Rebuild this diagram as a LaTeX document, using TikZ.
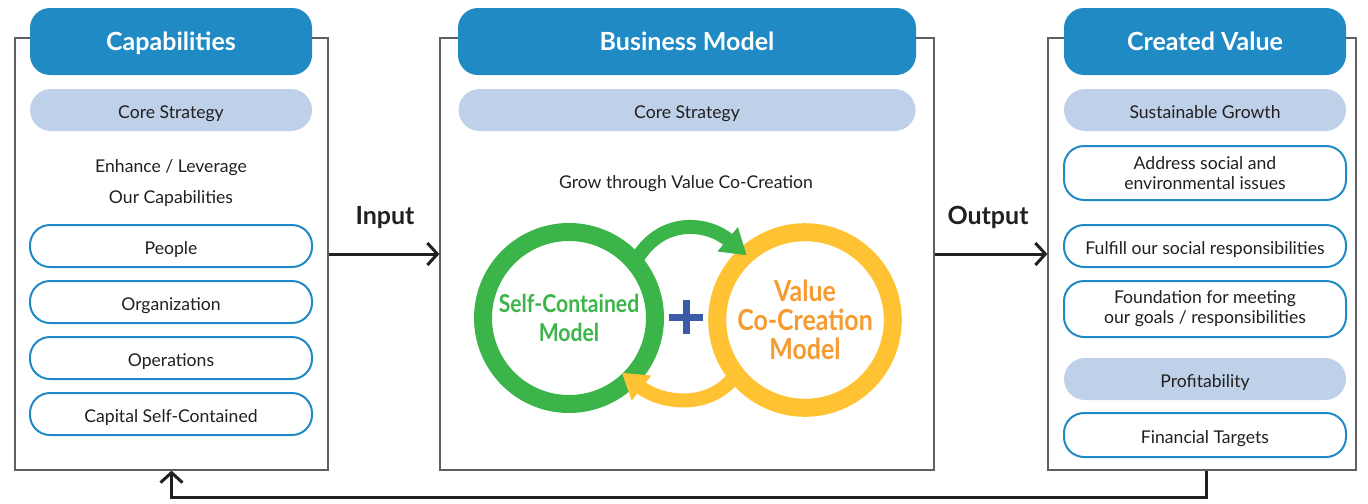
\documentclass[tikz,border=0pt]{standalone}
\usepackage{fontspec}
\setmainfont{Lato}
\newfontfamily\condfont[FakeStretch=0.86]{Lato}
\usetikzlibrary{arrows.meta,positioning,calc}
\definecolor{hdblue}{HTML}{1F8AC4}
\definecolor{pillblue}{HTML}{BED1E9}
\definecolor{ringgreen}{HTML}{3BB54A}
\definecolor{ringyellow}{HTML}{FEC232}
\definecolor{valorange}{HTML}{F59B30}
\definecolor{plusblue}{HTML}{3A5BA8}
\definecolor{linedark}{HTML}{231F20}
\definecolor{framegray}{HTML}{606060}
\newcommand{\bodyfont}{\fontsize{8.8}{15.5}\selectfont}

\begin{document}
\begin{tikzpicture}[x=0.5pt, y=-0.5pt, text=linedark,
  oneline/.style={text height=8.9pt, text depth=0.5pt},
  panel/.style={draw=framegray, line width=0.6pt, minimum height=216pt, inner sep=0pt},
  header/.style={fill=hdblue, rounded corners=10pt, minimum height=33.5pt, text=white, text height=9.5pt, text depth=0.5pt, font=\bfseries\fontsize{12.5}{14}\selectfont},
  strat/.style={fill=pillblue, rounded corners=10.5pt, minimum width=141pt, minimum height=21pt, oneline, font=\bodyfont},
  item/.style={draw=hdblue, line width=1pt, fill=white, rounded corners=10pt, minimum width=141pt, minimum height=21pt, align=center, font=\fontsize{8.8}{10}\selectfont},
  arr/.style={-{Straight Barb[length=5pt, width=11pt]}, line width=1.5pt, draw=linedark},
  ring/.style={circle, line width=9pt, minimum size=86pt, align=center},
  loop/.style={line width=7pt, -{Triangle[length=12.5pt, width=15pt]}},
  lbl/.style={text height=9.5pt, text depth=0.5pt, font=\bfseries\fontsize{12.5}{14}\selectfont}]
\useasboundingbox (0,0) rectangle (1368,503);

% outer panels
\node[panel, minimum width=156.5pt] (capbox) at (171.5,254) {};
\node[panel, minimum width=247pt] (bmbox) at (687,254) {};
\node[panel, minimum width=154pt] (cvbox) at (1202,254) {};

% headers
\node[header, minimum width=141pt] (caphd) at (171,41.5) {Capabilities};
\node[header, minimum width=229pt] (bmhd) at (687,41.5) {Business Model};
\node[header, minimum width=141pt] (cvhd) at (1205,41.5) {Created Value};

% capabilities column
\node[strat] (capstrat) at (171,110) {Core Strategy};
\node[align=center, font=\bodyfont] (captext) at (171,183) {Enhance / Leverage\\Our Capabilities};
\node[item, oneline] (people) at (171,246) {People};
\node[item, oneline] (org) at (171,302) {Organization};
\node[item, oneline] (ops) at (171,358) {Operations};
\node[item, oneline] (capital) at (171,414) {Capital Self-Contained};

% business model column
\node[strat, minimum width=228.5pt] (bmstrat) at (687,110) {Core Strategy};
\node[oneline, font=\bodyfont] (grow) at (686,180) {Grow through Value Co-Creation};
\node[ring, draw=ringgreen, text=ringgreen, font=\condfont\bfseries\fontsize{12.3}{14.5}\selectfont] (selfmodel) at (569,318) {Self-Contained\\Model};
\node[ring, draw=ringyellow, text=valorange, font=\condfont\bfseries\fontsize{14.5}{14.5}\selectfont] (valuemodel) at (805,320) {Value\\Co-Creation\\Model};
\draw[loop, draw=ringgreen] ($(selfmodel.center)+(40:43pt)$) .. controls +(62:26pt) and +(140:26pt) .. ($(valuemodel.center)+(132:43.5pt)$);
\draw[loop, draw=ringyellow] ($(valuemodel.center)+(218:43pt)$) .. controls +(235:24pt) and +(-38:24pt) .. ($(selfmodel.center)+(-46:38pt)$);
\coordinate (plus) at (686,317);
\draw[plusblue, line width=3.5pt] ([xshift=-8.5pt]plus) -- ([xshift=8.5pt]plus) ([yshift=-8.5pt]plus) -- ([yshift=8.5pt]plus);

% created value column
\node[strat] (growth) at (1205,110) {Sustainable Growth};
\node[item, minimum height=27pt] (issues) at (1205,173) {Address social and\\environmental issues};
\node[item, oneline] (resp) at (1205,246) {Fulfill our social responsibilities};
\node[item, minimum height=28pt] (goals) at (1205,309) {Foundation for meeting\\our goals / responsibilities};
\node[strat] (profit) at (1205,379) {Profitability};
\node[item, oneline, minimum height=22pt] (targets) at (1205,435) {Financial Targets};

% flow
\draw[arr] (capbox.east) -- (bmbox.west);
\draw[arr] (bmbox.east) -- (cvbox.west);
\node[lbl] (inlbl) at (385,215) {Input};
\node[lbl] (outlbl) at (988,215) {Output};
\draw[arr] ([xshift=2pt]cvbox.south) -- ++(0,27) -| (capbox.south);
\end{tikzpicture}
\end{document}
